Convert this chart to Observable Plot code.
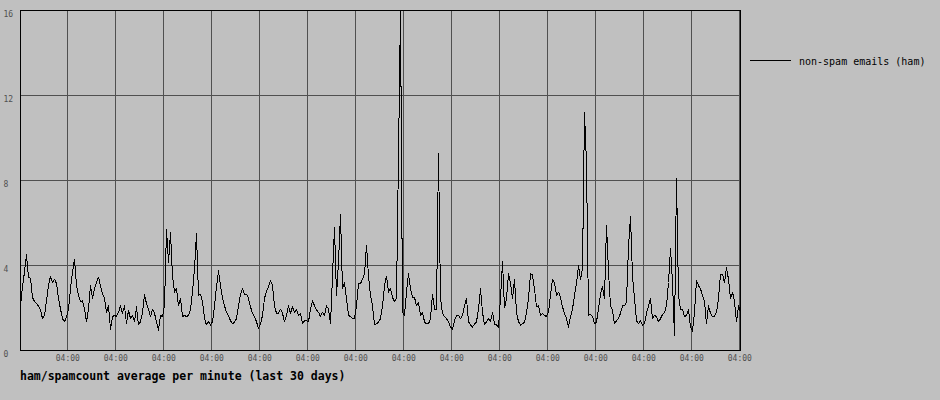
<!DOCTYPE html>
<html>
<head>
<meta charset="utf-8">
<script src="https://cdn.jsdelivr.net/npm/d3@7"></script>
<script src="https://cdn.jsdelivr.net/npm/@observablehq/plot@0.6"></script>
<style>
  html, body { margin: 0; padding: 0; background: #c0c0c0; }
  #wrap { position: relative; width: 940px; height: 400px; background: #c0c0c0; }
  #chart svg { display: block; }
  #legendLine { position: absolute; left: 750px; top: 60px; width: 41px; height: 1px; background: #000; }
  #legendText { position: absolute; left: 799px; top: 56px; font: 10px "DejaVu Sans Mono"; line-height: 12px; color: #000; white-space: nowrap; }
  #title { position: absolute; left: 20px; top: 370px; font: bold 11.5px "DejaVu Sans Mono"; line-height: 12px; color: #000; white-space: nowrap; }
</style>
</head>
<body>
<div id="wrap">
  <div id="chart"></div>
  <div id="legendLine"></div>
  <div id="legendText">non-spam emails (ham)</div>
  <div id="title">ham/spamcount average per minute (last 30 days)</div>
</div>
<script>
// ---- data ----
const seriesName = "non-spam emails (ham)";
const seriesStart = "2024-01-01T04:40:00Z";   // first sample
const seriesEnd = "2024-01-31T04:40:00Z";     // last sample
const stepHours = 2;                           // one sample every 2 hours
const hamValues = [
  2.1, 3.0, 3.7, 4.5, 3.45, 3.4, 2.5, 2.3, 2.2, 2.1,
  1.9, 1.5, 1.65, 2.35, 3.05, 3.5, 3.2, 3.35, 3.15, 2.45,
  1.95, 1.5, 1.35, 1.6, 1.95, 2.9, 3.7, 4.3, 3.05, 2.6,
  2.3, 2.35, 1.95, 1.35, 1.95, 3.05, 2.45, 2.9, 3.2, 3.45,
  3.05, 2.65, 2.45, 1.8, 2.1, 1.0, 1.6, 1.65, 1.6, 1.8,
  2.1, 1.75, 2.1, 1.25, 1.9, 1.5, 1.65, 1.35, 2.05, 1.2,
  1.35,
  1.8, 2.65, 2.2, 1.95, 1.6, 1.95, 1.75, 1.35, 0.95, 1.65,
  1.6, 2.1, 5.7, 4.15, 5.55, 3.5, 2.75, 2.9, 2.1, 2.45,
  1.6, 1.65, 1.6, 1.65, 1.9, 2.75, 3.85, 5.5, 2.6, 2.65,
  2.3, 1.5, 1.2, 1.35, 1.2, 1.35, 2.1, 3.0, 3.75, 3.05,
  2.45, 2.1, 1.8, 1.65, 1.4, 1.25, 1.35, 1.5, 2.1, 2.65,
  2.9, 2.65, 2.65, 2.45, 2.05, 1.75, 1.6, 1.35, 1.05, 1.25,
  1.65, 2.45, 2.8, 3.0, 3.3, 3.05, 2.1, 1.75, 1.75, 1.95,
  1.75, 1.35, 1.65, 2.1, 1.75, 2.05, 1.8, 1.95, 1.65, 1.75,
  1.25, 1.4, 1.4, 1.35, 1.95, 2.35, 2.1, 1.9, 1.8, 1.6,
  1.8, 1.65, 2.1, 1.95, 1.25, 3.5, 5.8, 2.6, 4.15, 6.4,
  2.9, 3.2, 2.45, 1.65, 1.6, 1.5, 1.5, 2.1, 3.15, 3.15,
  3.35, 3.6, 4.95, 3.5, 2.6, 2.1, 1.2, 1.25, 1.35, 1.5,
  2.1, 3.05, 3.5, 2.75, 2.9, 2.5, 2.3, 2.45, 9.2, 16,
  1.8, 1.65, 2.75, 3.6, 2.9, 2.5, 2.5, 2.1, 2.25, 1.65,
  1.8, 1.35, 1.25, 1.25, 1.5, 2.65, 1.95, 1.95, 9.25, 2.45,
  1.75, 1.6, 1.5, 1.35, 1.1, 1.0, 1.4, 1.65, 1.65, 1.5,
  1.65, 2.1, 2.45, 1.35, 1.2, 1.1, 1.25, 1.35, 1.95, 2.9,
  1.8, 1.2, 1.35, 1.5, 1.35, 1.8, 1.25, 1.2, 1.1, 2.45,
  4.2, 2.0, 2.45, 3.6, 3.15, 2.45, 3.35, 1.8, 1.35, 1.2,
  1.25, 1.35, 1.75, 2.45, 3.6, 3.55, 2.9, 2.05, 2.1, 1.65,
  1.75, 1.65, 1.6, 1.8, 2.6, 3.35, 3.2, 2.6, 2.75, 2.5,
  2.05, 1.75, 1.5, 1.1, 1.6, 1.95, 2.6, 3.15, 4.0, 3.35,
  3.85, 11.2, 8.8, 1.65, 1.7, 1.6, 1.25, 1.35, 1.95, 2.65,
  3.0, 2.45, 5.9, 3.7, 2.1, 1.9, 1.25, 1.4, 1.5, 1.75,
  2.1, 2.1, 2.3, 4.9, 6.3, 3.5, 2.45, 1.4, 1.25, 1.4,
  1.2, 1.25, 1.75, 2.1, 2.45, 1.5, 1.65, 1.6, 1.35, 1.5,
  1.7, 1.8, 2.1, 3.2, 4.8, 3.2, 0.7, 8.1, 2.6, 1.95,
  1.95, 1.6, 1.65, 1.95, 1.1, 0.9, 1.8, 3.3, 3.05, 2.9,
  2.6, 2.3, 1.25, 2.1, 1.75, 1.6, 1.6, 1.8, 2.45, 3.6,
  3.6, 3.2, 3.9, 3.35, 2.45, 2.75, 2.3, 1.35, 2.1, 1.8
];
const xTickDates = [
  "2024-01-03T04:00:00Z", "2024-01-05T04:00:00Z", "2024-01-07T04:00:00Z",
  "2024-01-09T04:00:00Z", "2024-01-11T04:00:00Z", "2024-01-13T04:00:00Z",
  "2024-01-15T04:00:00Z", "2024-01-17T04:00:00Z", "2024-01-19T04:00:00Z",
  "2024-01-21T04:00:00Z", "2024-01-23T04:00:00Z", "2024-01-25T04:00:00Z",
  "2024-01-27T04:00:00Z", "2024-01-29T04:00:00Z", "2024-01-31T04:00:00Z"
];
const yTicks = [0, 4, 8, 12, 16];
const yGrid = [4, 8, 12];

// ---- table ----
const t0 = new Date(seriesStart).getTime();
const table = hamValues.map((v, i) => ({time: new Date(t0 + i * stepHours * 3600e3), value: v}));
const xTicks = xTickDates.map(s => new Date(s));

const chart = Plot.plot({
  width: 940,
  height: 366,
  marginLeft: 20,
  marginRight: 200,
  marginTop: 10,
  marginBottom: 16,
  style: {background: "#c0c0c0", fontFamily: "DejaVu Sans Mono", fontSize: "8px", color: "#505050", overflow: "visible"},
  x: {type: "utc", domain: [new Date(seriesStart), new Date(seriesEnd)]},
  y: {domain: [0, 16]},
  marks: [
    Plot.gridX({ticks: xTicks, stroke: "#505050", strokeOpacity: 1}),
    Plot.gridY({ticks: yGrid, stroke: "#505050", strokeOpacity: 1}),
    Plot.lineY(table, {x: "time", y: "value", stroke: "#000", strokeWidth: 1}),
    Plot.frame({stroke: "#000"}),
    Plot.axisX({ticks: xTicks, tickSize: 0, tickPadding: 5, tickFormat: d3.utcFormat("%H:%M"), label: null}),
    Plot.axisY({ticks: yTicks, tickSize: 0, tickPadding: 0, textAnchor: "start", dx: -17, dy: 4, label: null})
  ]
});
chart.setAttribute("shape-rendering", "crispEdges");
document.getElementById("chart").appendChild(chart);
</script>
</body>
</html>
